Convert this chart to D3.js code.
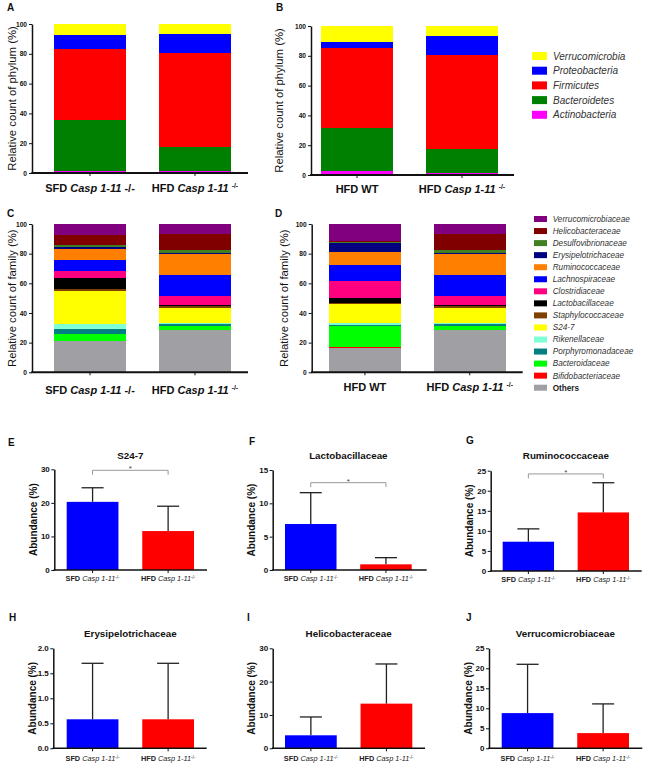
<!DOCTYPE html>
<html><head><meta charset="utf-8">
<script src="https://cdn.jsdelivr.net/npm/d3@7"></script>
<style>
body{margin:0;background:#fff}
svg{display:block}
text{font-family:"Liberation Sans",Arial,Helvetica,sans-serif}
</style>
</head><body>
<svg id="chart" width="669" height="774"></svg>
<script>
// ---------------- DATA ----------------
// Phylum (stack order bottom -> top)
const phylumNames = ["Actinobacteria","Bacteroidetes","Firmicutes","Proteobacteria","Verrucomicrobia"];
const phylumColors = ["#ff00ff","#008000","#ff0000","#0000ff","#ffff00"];
const phylumSFDCasp = [1.5, 34.1, 47.6, 9.2, 7.6];
const phylumHFDCasp = [1.5, 15.9, 62.9, 13.2, 6.5];
const phylumHFDWT   = [2.5, 29.0, 53.7, 4.1, 10.7];

// Family (stack order bottom -> top)
const familyNames = ["Others","Bifidobacteriaceae","Bacteroidaceae","Porphyromonadaceae","Rikenellaceae","S24-7",
  "Staphylococcaceae","Lactobacillaceae","Clostridiaceae","Lachnospiraceae","Ruminococcaceae",
  "Erysipelotrichaceae","Desulfovibrionaceae","Helicobacteraceae","Verrucomicrobiaceae"];
const familyColors = ["#a0a0a4","#ff0000","#00ff00","#008080","#7fffd4","#ffff00",
  "#804000","#000000","#ff0080","#0000ff","#ff8000",
  "#000080","#408020","#800000","#800080"];
const familySFDCasp = [21.1, 0.3, 4.3, 3.8, 3.2, 22.0, 1.8, 7.2, 4.9, 7.0, 7.4, 1.3, 1.4, 7.2, 7.1];
const familyHFDCasp = [28.3, 0.0, 3.2, 0.9, 1.1, 9.9, 1.3, 0.9, 6.1, 13.9, 14.0, 0.8, 2.1, 10.8, 6.7];
const familyHFDWT   = [16.4, 0.9, 13.9, 0.7, 1.1, 13.1, 0.6, 3.4, 11.5, 10.8, 8.9, 6.1, 0.7, 0.7, 11.2];

// Category tick labels (** bold, * italic, ^ superscript)
const catsSFDvsHFD = ["SFD *Casp 1-11* -/-", "HFD *Casp 1-11* ^-/-"];
const catsWTvsCasp = ["HFD WT", "HFD *Casp 1-11* ^-/-"];
const stackTicks = [0, 20, 40, 60, 80, 100];

// Abundance panels E-J
const abundLetters = ["E","F","G","H","I","J"];
const abundTitles  = ["S24-7","Lactobacillaceae","Ruminococcaceae","Erysipelotrichaceae","Helicobacteraceae","Verrucomicrobiaceae"];
const abundCats    = ["**SFD** *Casp 1-11*^-/-", "**HFD** *Casp 1-11*^-/-"];
const abundMeans   = [[20.3, 11.6], [6.9, 0.85], [7.3, 14.6], [0.58, 0.58], [3.9, 13.4], [8.8, 3.8]];
const abundSD      = [[4.2, 7.4], [4.7, 1.0], [3.2, 7.4], [1.12, 1.12], [5.5, 11.9], [12.2, 7.3]];
const abundMax     = [30, 15, 25, 2.0, 30, 25];
const abundTicks   = [[0,10,20,30],[0,5,10,15],[0,5,10,15,20,25],[0,0.5,1.0,1.5,2.0],[0,10,20,30],[0,5,10,15,20,25]];
const abundSig     = [29.7, 13.1, 24.2, null, null, null];  // bracket level (data units) for "*"
const barColors    = ["#0000ff", "#ff0000"];

// ---------------- LAYOUT ----------------
const svg = d3.select("#chart");
const FONT = '"Liberation Sans",Arial,Helvetica,sans-serif';

function richText(sel, str) {
  const re = /\*\*([^*]+)\*\*|\*([^*]+)\*|\^(.+)$|([^*^]+)/g;
  let m;
  while ((m = re.exec(str))) {
    const t = sel.append("tspan");
    if (m[1]) t.attr("font-weight", "bold").text(m[1]);
    else if (m[2]) t.attr("font-style", "italic").text(m[2]);
    else if (m[3]) t.attr("font-size", "0.62em").attr("dy", "-0.55em").text(m[3]);
    else t.text(m[4]);
  }
}

function panelLetter(x, y, s) {
  svg.append("text").attr("x", x).attr("y", y).attr("font-size", 10).attr("font-weight", "bold").attr("fill", "#111").text(s);
}

function stackedPanel(cfg) {
  const g = svg.append("g");
  const y = d3.scaleLinear().domain([0, 100]).range([cfg.y0, cfg.y100]);
  const x = d3.scaleBand().domain(cfg.cats).range(cfg.bandRange).paddingInner(0.314);
  const rows = cfg.cats.map((c, i) => {
    const r = {cat: c};
    cfg.names.forEach((n, j) => r[n] = cfg.series[i][j]);
    return r;
  });
  const stacked = d3.stack().keys(cfg.names)(rows);
  g.selectAll("g.layer").data(stacked).join("g").attr("class", "layer")
    .attr("fill", (d, i) => cfg.colors[i])
    .selectAll("rect").data(d => d).join("rect")
    .attr("shape-rendering", "crispEdges")
    .attr("x", d => x(d.data.cat)).attr("width", x.bandwidth())
    .attr("y", d => y(d[1])).attr("height", d => Math.max(0, y(d[0]) - y(d[1])));

  const ya = g.append("g").attr("transform", `translate(${cfg.axisX},0)`)
    .call(d3.axisLeft(y).tickValues(stackTicks).tickSize(3).tickSizeOuter(0).tickPadding(2));
  ya.select(".domain").attr("stroke", "#111").attr("stroke-width", 1.5);
  ya.selectAll(".tick line").attr("stroke", "#111");
  ya.selectAll(".tick text").attr("font-size", 6.6).attr("font-weight", "bold").attr("font-family", FONT).attr("fill", "#111");

  const xa = g.append("g").attr("transform", `translate(0,${cfg.y0})`)
    .call(d3.axisBottom(x).tickSize(3).tickFormat(""));
  xa.select(".domain").remove();
  xa.selectAll(".tick line").attr("stroke", "#111");
  g.append("line").attr("x1", cfg.axisX - 0.75).attr("x2", cfg.xEnd).attr("y1", cfg.y0).attr("y2", cfg.y0)
    .attr("stroke", "#111").attr("stroke-width", 2);

  cfg.cats.forEach(c => {
    const t = g.append("text").attr("x", x(c) + x.bandwidth() / 2).attr("y", cfg.labelY)
      .attr("text-anchor", "middle").attr("font-size", 11).attr("font-weight", "bold").attr("fill", "#111");
    richText(t, c);
  });

  g.append("text").attr("transform", `translate(${cfg.ylabelX},${(cfg.y0 + cfg.y100) / 2}) rotate(-90)`)
    .attr("text-anchor", "middle").attr("dy", "0.35em").attr("font-size", 11.3).attr("fill", "#111")
    .text(cfg.ylabel);
  panelLetter(cfg.lx, cfg.ly, cfg.letter);
}

stackedPanel({letter: "A", lx: 7, ly: 11, axisX: 32, xEnd: 248, y0: 173, y100: 24, bandRange: [54, 231],
  cats: catsSFDvsHFD, series: [phylumSFDCasp, phylumHFDCasp], names: phylumNames, colors: phylumColors,
  ylabel: "Relative count of phylum (%)", ylabelX: 12.5, labelY: 192});
stackedPanel({letter: "B", lx: 276, ly: 11, axisX: 311, xEnd: 514, y0: 175, y100: 26, bandRange: [321, 498],
  cats: catsWTvsCasp, series: [phylumHFDWT, phylumHFDCasp], names: phylumNames, colors: phylumColors,
  ylabel: "Relative count of phylum (%)", ylabelX: 279.5, labelY: 193});
stackedPanel({letter: "C", lx: 7, ly: 217, axisX: 32, xEnd: 248, y0: 372.3, y100: 224, bandRange: [54, 231],
  cats: catsSFDvsHFD, series: [familySFDCasp, familyHFDCasp], names: familyNames, colors: familyColors,
  ylabel: "Relative count of family (%)", ylabelX: 11.7, labelY: 394});
stackedPanel({letter: "D", lx: 275, ly: 217, axisX: 311.7, xEnd: 522.7, y0: 372.3, y100: 224, bandRange: [329, 505.7],
  cats: catsWTvsCasp, series: [familyHFDWT, familyHFDCasp], names: familyNames, colors: familyColors,
  ylabel: "Relative count of family (%)", ylabelX: 284, labelY: 391});

// Legends
function legend(cfg) {
  const items = cfg.names.map((n, i) => ({n, c: cfg.colors[i]})).reverse();
  const g = svg.append("g");
  items.forEach((d, i) => {
    const cy = cfg.y + i * cfg.step;
    g.append("rect").attr("x", cfg.x).attr("y", cy - cfg.sh / 2).attr("width", cfg.sw).attr("height", cfg.sh).attr("fill", d.c);
    const t = g.append("text").attr("x", cfg.tx).attr("y", cy).attr("dy", "0.35em")
      .attr("font-size", cfg.fs).attr("fill", "#333").text(d.n);
    if (d.n === "Others") t.attr("font-weight", "bold").attr("fill", "#222");
    else t.attr("font-style", "italic");
  });
}
legend({names: phylumNames, colors: phylumColors, x: 532, tx: 553, y: 56, step: 14.7, sw: 15, sh: 8, fs: 10});
legend({names: familyNames, colors: familyColors, x: 534, tx: 552.7, y: 219, step: 12.05, sw: 13, sh: 6, fs: 8.2});

// Abundance panels
const abundLayout = [
  {lx: 8,   ly: 446, titleY: 459, axisX: 54.3,  xEnd: 207,   yTop: 469.3, y0: 570,   band: [66.7, 194],   labelY: 581},
  {lx: 249, ly: 445, titleY: 459, axisX: 272.7, xEnd: 426.7, yTop: 470,   y0: 570,   band: [285, 411.7],  labelY: 581},
  {lx: 466, ly: 444, titleY: 459, axisX: 490.7, xEnd: 641.7, yTop: 470.7, y0: 571,   band: [502.7, 629],  labelY: 582},
  {lx: 9,   ly: 621, titleY: 637, axisX: 53.3,  xEnd: 206.7, yTop: 648.3, y0: 748.3, band: [66.7, 194],   labelY: 761},
  {lx: 247, ly: 621, titleY: 637, axisX: 272.7, xEnd: 425,   yTop: 648.3, y0: 748.3, band: [285, 412.3],  labelY: 761},
  {lx: 466, ly: 621, titleY: 637, axisX: 489,   xEnd: 642.3, yTop: 648.3, y0: 748.3, band: [501.7, 629],  labelY: 761}
];

abundTitles.forEach((title, i) => {
  const L = abundLayout[i];
  const g = svg.append("g");
  const y = d3.scaleLinear().domain([0, abundMax[i]]).range([L.y0, L.yTop]);
  const x = d3.scaleBand().domain(abundCats).range(L.band).paddingInner(0.315);
  const rows = abundCats.map((c, j) => ({cat: c, mean: abundMeans[i][j], sd: abundSD[i][j], color: barColors[j]}));

  g.selectAll("rect.bar").data(rows).join("rect").attr("class", "bar")
    .attr("x", d => x(d.cat)).attr("width", x.bandwidth())
    .attr("y", d => y(d.mean)).attr("height", d => y(0) - y(d.mean)).attr("fill", d => d.color);

  // error bars
  const capW = 22;
  rows.forEach(d => {
    const cx = x(d.cat) + x.bandwidth() / 2;
    g.append("line").attr("x1", cx).attr("x2", cx).attr("y1", y(d.mean)).attr("y2", y(d.mean + d.sd))
      .attr("stroke", "#222").attr("stroke-width", 1.3);
    g.append("line").attr("x1", cx - capW / 2).attr("x2", cx + capW / 2).attr("y1", y(d.mean + d.sd)).attr("y2", y(d.mean + d.sd))
      .attr("stroke", "#222").attr("stroke-width", 1.3);
  });

  const ya = g.append("g").attr("transform", `translate(${L.axisX},0)`)
    .call(d3.axisLeft(y).tickValues(abundTicks[i]).tickSize(3).tickSizeOuter(0).tickPadding(1.5)
      .tickFormat(abundMax[i] < 5 ? d3.format(".1f") : d3.format("d")));
  ya.select(".domain").attr("stroke", "#111").attr("stroke-width", 1.5);
  ya.selectAll(".tick line").attr("stroke", "#111");
  ya.selectAll(".tick text").attr("font-size", 8).attr("font-weight", "bold").attr("font-family", FONT).attr("fill", "#111");

  const xa = g.append("g").attr("transform", `translate(0,${L.y0})`)
    .call(d3.axisBottom(x).tickSize(3).tickFormat(""));
  xa.select(".domain").remove();
  xa.selectAll(".tick line").attr("stroke", "#111");
  g.append("line").attr("x1", L.axisX - 0.75).attr("x2", L.xEnd).attr("y1", L.y0).attr("y2", L.y0)
    .attr("stroke", "#111").attr("stroke-width", 1.6);

  abundCats.forEach(c => {
    const t = g.append("text").attr("x", x(c) + x.bandwidth() / 2).attr("y", L.labelY)
      .attr("text-anchor", "middle").attr("font-size", 7.3).attr("fill", "#222");
    richText(t, c);
  });

  // title
  g.append("text").attr("x", (L.band[0] + L.band[1]) / 2).attr("y", L.titleY).attr("text-anchor", "middle")
    .attr("font-size", 9.8).attr("font-weight", "bold").attr("fill", "#111").text(title);

  // y label
  g.append("text").attr("transform", `translate(${L.axisX - 21},${(L.y0 + L.yTop) / 2}) rotate(-90)`)
    .attr("text-anchor", "middle").attr("dy", "0.35em").attr("font-size", 10).attr("font-weight", "bold")
    .attr("fill", "#111").text("Abundance (%)");

  // significance bracket
  if (abundSig[i] != null) {
    const by = y(abundSig[i]);
    const x1 = x(abundCats[0]) + x.bandwidth() / 2, x2 = x(abundCats[1]) + x.bandwidth() / 2;
    g.append("path").attr("d", `M${x1},${by + 4.5}V${by}H${x2}V${by + 4.5}`)
      .attr("fill", "none").attr("stroke", "#999").attr("stroke-width", 1);
    g.append("text").attr("x", (x1 + x2) / 2).attr("y", by + 1).attr("text-anchor", "middle")
      .attr("font-size", 8).attr("fill", "#444").text("*");
  }

  panelLetter(L.lx, L.ly, abundLetters[i]);
});
</script>
</body></html>
